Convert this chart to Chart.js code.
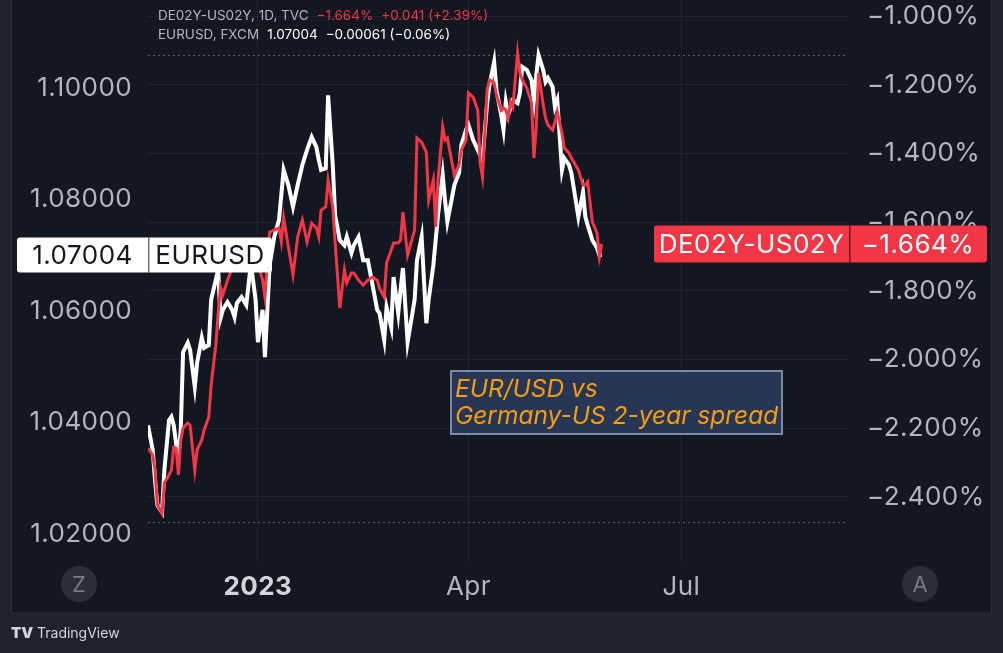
<!DOCTYPE html>
<html>
<head>
<meta charset="utf-8">
<script src="https://cdn.jsdelivr.net/npm/chart.js@4.4.1/dist/chart.umd.min.js"></script>
<style>
  html, body { margin: 0; padding: 0; background: #1e222d; }
  #wrap { width: 1003px; height: 653px; }
</style>
</head>
<body>
<div id="wrap"><canvas id="spreadChart" width="1003" height="653"></canvas></div>
<script>
// daily closes
const dates = [
  '2022-11-15','2022-11-17','2022-11-18','2022-11-19','2022-11-21','2022-11-22','2022-11-24','2022-11-25',
  '2022-11-26','2022-11-27','2022-11-28','2022-11-29','2022-11-30','2022-12-02','2022-12-03','2022-12-05',
  '2022-12-06','2022-12-08','2022-12-09','2022-12-11','2022-12-12','2022-12-14','2022-12-15','2022-12-16',
  '2022-12-17','2022-12-19','2022-12-21','2022-12-22','2022-12-23','2022-12-25','2022-12-27','2022-12-28',
  '2022-12-29','2022-12-31','2023-01-01','2023-01-03','2023-01-04','2023-01-06','2023-01-08','2023-01-10',
  '2023-01-11','2023-01-12','2023-01-14','2023-01-16','2023-01-18','2023-01-20','2023-01-22','2023-01-24',
  '2023-01-26','2023-01-27','2023-01-28','2023-01-30','2023-01-31','2023-02-02','2023-02-03','2023-02-05',
  '2023-02-07','2023-02-08','2023-02-10','2023-02-11','2023-02-13','2023-02-15','2023-02-17','2023-02-19',
  '2023-02-21','2023-02-22','2023-02-24','2023-02-25','2023-02-27','2023-02-28','2023-03-02','2023-03-03',
  '2023-03-04','2023-03-06','2023-03-09','2023-03-10','2023-03-12','2023-03-14','2023-03-15','2023-03-17',
  '2023-03-18','2023-03-19','2023-03-21','2023-03-22','2023-03-23','2023-03-26','2023-03-28','2023-03-29',
  '2023-03-31','2023-04-01','2023-04-03','2023-04-05','2023-04-06','2023-04-07','2023-04-09','2023-04-10',
  '2023-04-12','2023-04-13','2023-04-15','2023-04-16','2023-04-17','2023-04-18','2023-04-19','2023-04-20',
  '2023-04-22','2023-04-23','2023-04-24','2023-04-26','2023-04-28','2023-04-29','2023-04-30','2023-05-01',
  '2023-05-03','2023-05-04','2023-05-05','2023-05-07','2023-05-08','2023-05-09','2023-05-11','2023-05-12',
  '2023-05-14','2023-05-15','2023-05-18','2023-05-20','2023-05-21','2023-05-22','2023-05-24','2023-05-26',
  '2023-05-27','2023-05-28'
];

const eurusd = [
  1.0395, 1.0351, 1.0297, 1.0252, 1.0239, 1.0315, 1.0404, 1.0410,
  1.0395, 1.0363, 1.0338, 1.0386, 1.0526, 1.0543, 1.0530, 1.0464,
  1.0507, 1.0552, 1.0534, 1.0539, 1.0620, 1.0656, 1.0674, 1.0587,
  1.0602, 1.0616, 1.0602, 1.0589, 1.0614, 1.0625, 1.0611, 1.0647,
  1.0686, 1.0620, 1.0544, 1.0602, 1.0517, 1.0682, 1.0733, 1.0763,
  1.0808, 1.0853, 1.0826, 1.0787, 1.0826, 1.0862, 1.0889, 1.0912,
  1.0894, 1.0871, 1.0853, 1.0856, 1.0987, 1.0862, 1.0772, 1.0727,
  1.0718, 1.0733, 1.0704, 1.0718, 1.0733, 1.0691, 1.0691, 1.0647,
  1.0602, 1.0596, 1.0548, 1.0607, 1.0571, 1.0661, 1.0596, 1.0638,
  1.0677, 1.0544, 1.0620, 1.0691, 1.0733, 1.0578, 1.0620, 1.0682,
  1.0727, 1.0772, 1.0844, 1.0799, 1.0760, 1.0826, 1.0848, 1.0898,
  1.0925, 1.0934, 1.0907, 1.0889, 1.0880, 1.0871, 1.0973, 1.1005,
  1.1047, 1.0996, 1.0952, 1.0925, 1.0975, 1.0952, 1.0964, 1.0978,
  1.0973, 1.0991, 1.1038, 1.1032, 1.1014, 1.0978, 1.1023, 1.1059,
  1.1032, 1.1011, 1.1018, 1.1002, 1.0966, 1.0978, 1.0853, 1.0874,
  1.0862, 1.0848, 1.0769, 1.0813, 1.0769, 1.0754, 1.0727, 1.0713,
  1.0700, 1.07004
];

const spread = [
  -2.258, -2.278, -2.322, -2.423, -2.447, -2.359, -2.336, -2.322,
  -2.255, -2.258, -2.336, -2.234, -2.199, -2.185, -2.191, -2.322,
  -2.263, -2.234, -2.205, -2.167, -2.074, -1.958, -1.865, -1.789,
  -1.812, -1.769, -1.734, -1.704, -1.687, -1.716, -1.681, -1.696,
  -1.675, -1.696, -1.719, -1.769, -1.818, -1.629, -1.623, -1.617,
  -1.658, -1.588, -1.672, -1.754, -1.643, -1.594, -1.658, -1.603,
  -1.617, -1.643, -1.565, -1.556, -1.477, -1.556, -1.658, -1.850,
  -1.739, -1.777, -1.748, -1.748, -1.769, -1.783, -1.769, -1.760,
  -1.769, -1.792, -1.818, -1.719, -1.681, -1.661, -1.661, -1.652,
  -1.571, -1.696, -1.623, -1.355, -1.367, -1.396, -1.536, -1.477,
  -1.614, -1.477, -1.323, -1.361, -1.355, -1.463, -1.434, -1.390,
  -1.361, -1.224, -1.236, -1.274, -1.428, -1.469, -1.215, -1.186,
  -1.195, -1.230, -1.274, -1.268, -1.274, -1.297, -1.250, -1.265,
  -1.108, -1.166, -1.186, -1.210, -1.253, -1.413, -1.323, -1.166,
  -1.259, -1.297, -1.317, -1.332, -1.309, -1.279, -1.341, -1.384,
  -1.399, -1.413, -1.448, -1.492, -1.492, -1.483, -1.600, -1.632,
  -1.701, -1.664
];

const xTickDates = ['2023-01-01', '2023-04-01', '2023-07-01'];
const xTickLabels = ['2023', 'Apr', 'Jul'];
const eurTicks = [1.02, 1.04, 1.06, 1.08, 1.10];
const spreadTicks = [-2.4, -2.2, -2.0, -1.8, -1.6, -1.4, -1.2, -1.0];
const eurHighLow = [1.1059, 1.0222]; // dotted high / low of the visible range

const FONT = 'Inter, "Noto Sans", sans-serif';
const RED = '#f23645';
const TEXT = '#b2b5be';
const GRID = 'rgba(255,255,255,0.06)';

function dayNum(s) {
  const [y, m, d] = s.split('-').map(Number);
  return (Date.UTC(y, m - 1, d) - Date.UTC(2023, 0, 1)) / 86400000;
}

const eurPoints = dates.map((d, i) => ({ x: dayNum(d), y: eurusd[i] }));
const spreadPoints = dates.map((d, i) => ({ x: dayNum(d), y: spread[i] }));

function noPad(s) {
  s.paddingTop = 0;
  s.paddingBottom = 0;
  s.paddingLeft = 0;
  s.paddingRight = 0;
}

function priceTag(ctx, y, x0, xm, x1, h, bg, fg, left, right) {
  ctx.fillStyle = bg;
  ctx.beginPath();
  ctx.roundRect(x0, y - h / 2, x1 - x0, h, 3);
  ctx.fill();
  ctx.fillStyle = 'rgba(0,0,0,0.55)';
  ctx.fillRect(xm, y - h / 2, 1.5, h);
  ctx.fillStyle = fg;
  ctx.font = '400 26px ' + FONT;
  ctx.textAlign = 'center';
  ctx.textBaseline = 'middle';
  ctx.fillText(left, (x0 + xm) / 2, y + 1);
  ctx.fillText(right, (xm + x1) / 2, y + 1);
}

const chrome = {
  id: 'chrome',
  beforeDraw(chart) {
    const ctx = chart.ctx;
    ctx.save();
    ctx.fillStyle = '#1e222d';
    ctx.fillRect(0, 0, chart.width, chart.height);
    ctx.fillStyle = '#131722';
    ctx.fillRect(11, 0, 981, 613);
    ctx.strokeStyle = '#2a2e39';
    ctx.lineWidth = 1;
    ctx.strokeRect(11.5, -1, 980, 614);
    ctx.restore();
    ctx.letterSpacing = '0.4px';
  },
  beforeDatasetsDraw(chart) {
    const ctx = chart.ctx, a = chart.chartArea, y = chart.scales.yEur;
    ctx.save();
    ctx.strokeStyle = 'rgba(178,181,190,0.45)';
    ctx.setLineDash([2, 3]);
    ctx.lineWidth = 1;
    eurHighLow.forEach(v => {
      const py = Math.round(y.getPixelForValue(v)) + 0.5;
      ctx.beginPath();
      ctx.moveTo(a.left, py);
      ctx.lineTo(a.right, py);
      ctx.stroke();
    });
    ctx.restore();
  },
  afterDraw(chart) {
    const ctx = chart.ctx;
    ctx.save();
    ctx.letterSpacing = '0px';

    // note box
    ctx.fillStyle = 'rgba(42,58,90,0.92)';
    ctx.fillRect(451, 371, 331, 63);
    ctx.strokeStyle = '#7d8ca6';
    ctx.lineWidth = 2;
    ctx.strokeRect(451, 371, 331, 63);
    ctx.fillStyle = '#f59d12';
    ctx.font = 'italic 400 24.5px ' + FONT;
    ctx.textAlign = 'left';
    ctx.textBaseline = 'alphabetic';
    ctx.fillText('EUR/USD vs', 455, 397);
    ctx.fillText('Germany-US 2-year spread', 455, 424);

    // last value tags
    ctx.letterSpacing = '0.5px';
    const lastE = eurusd[eurusd.length - 1];
    const lastS = spread[spread.length - 1];
    priceTag(ctx, chart.scales.yEur.getPixelForValue(lastE), 17, 148, 272, 35, '#ffffff', '#131722',
      lastE.toFixed(5), 'EURUSD');
    priceTag(ctx, chart.scales.ySpread.getPixelForValue(lastS), 654, 849, 987, 37, RED, '#ffffff',
      'DE02Y-US02Y', '\u2212' + Math.abs(lastS).toFixed(3) + '%');
    ctx.letterSpacing = '0px';

    // legend lines
    ctx.font = '400 13.5px ' + FONT;
    ctx.textAlign = 'left';
    ctx.textBaseline = 'middle';
    function row(y, parts) {
      let x = 158;
      parts.forEach(([t, c]) => {
        ctx.fillStyle = c;
        ctx.fillText(t, x, y);
        x += ctx.measureText(t).width + 8;
      });
    }
    row(16, [['DE02Y-US02Y, 1D, TVC', TEXT], ['\u22121.664%', RED], ['+0.041 (+2.39%)', RED]]);
    row(35, [['EURUSD, FXCM', TEXT], ['1.07004', '#ffffff'], ['\u22120.00061 (\u22120.06%)', '#ffffff']]);

    // scale buttons
    [[79, 'Z'], [920, 'A']].forEach(([cx, t]) => {
      ctx.fillStyle = '#2a2e39';
      ctx.beginPath();
      ctx.arc(cx, 584, 18, 0, Math.PI * 2);
      ctx.fill();
      ctx.fillStyle = '#787b86';
      ctx.font = '400 22px ' + FONT;
      ctx.textAlign = 'center';
      ctx.fillText(t, cx, 585);
    });

    // footer
    ctx.fillStyle = '#d1d4dc';
    ctx.font = '900 15px ' + FONT;
    ctx.textAlign = 'left';
    ctx.fillText('TV', 11, 633);
    ctx.font = '400 14px ' + FONT;
    ctx.fillText('TradingView', 37, 634);
    ctx.restore();
  }
};

const ctx = document.getElementById('spreadChart').getContext('2d');
const spreadChart = new Chart(ctx, {
  type: 'line',
  data: {
    datasets: [
      {
        label: 'DE02Y-US02Y',
        data: spreadPoints,
        yAxisID: 'ySpread',
        borderColor: RED,
        borderWidth: 3,
        pointRadius: 0,
        tension: 0,
        fill: false
      },
      {
        label: 'EURUSD',
        data: eurPoints,
        yAxisID: 'yEur',
        borderColor: '#ffffff',
        borderWidth: 4,
        pointRadius: 0,
        tension: 0,
        fill: false
      }
    ]
  },
  options: {
    responsive: false,
    animation: false,
    layout: { padding: 0 },
    scales: {
      x: {
        type: 'linear',
        min: -47,
        max: 252.3,
        afterBuildTicks: s => { s.ticks = xTickDates.map(d => ({ value: dayNum(d) })); },
        afterFit: s => { s.height = 91; noPad(s); },
        grid: { color: GRID, drawTicks: false },
        border: { display: false },
        ticks: {
          autoSkip: false,
          maxRotation: 0,
          padding: 10,
          color: c => c.index === 0 ? '#d1d4dc' : TEXT,
          font: c => ({ family: FONT, size: 26, weight: c.index === 0 ? 'bold' : 'normal' }),
          callback: (v, i) => xTickLabels[i]
        }
      },
      yEur: {
        position: 'left',
        min: 1.01497,
        max: 1.11579,
        afterBuildTicks: s => { s.ticks = eurTicks.map(v => ({ value: v })); },
        afterFit: s => { s.width = 148; noPad(s); },
        grid: { display: false },
        border: { display: false },
        ticks: {
          padding: 8,
          color: TEXT,
          font: { family: FONT, size: 26 },
          callback: v => v.toFixed(5)
        }
      },
      ySpread: {
        position: 'right',
        min: -2.5894,
        max: -0.95342,
        afterBuildTicks: s => { s.ticks = spreadTicks.map(v => ({ value: v })); },
        afterFit: s => { s.width = 155; noPad(s); },
        grid: { color: GRID, drawTicks: false },
        border: { display: false },
        ticks: {
          padding: 19,
          color: TEXT,
          font: { family: FONT, size: 26 },
          callback: v => '\u2212' + Math.abs(v).toFixed(3) + '%'
        }
      }
    },
    plugins: {
      legend: { display: false },
      tooltip: { enabled: false }
    }
  },
  plugins: [chrome]
});
</script>
</body>
</html>
